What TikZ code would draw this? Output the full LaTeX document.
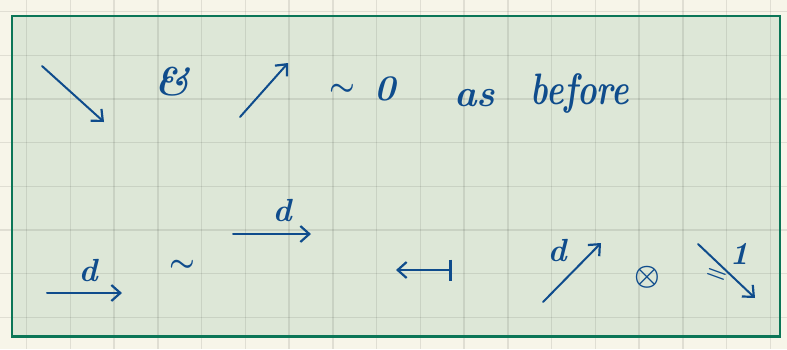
\documentclass[tikz,border=0pt]{standalone}
\usetikzlibrary{arrows.meta}
\definecolor{paper}{HTML}{F7F5E9}
\definecolor{boxfill}{HTML}{DDE7D7}
\definecolor{boxline}{HTML}{0B7657}
\definecolor{ink}{HTML}{0F4C8C}
\tikzset{
  inkarrow/.style={draw=ink, line width=1pt, line cap=round, -{Straight Barb[length=4.5pt,width=8pt,line width=1.1pt]}},
  inktext/.style={text=ink, inner sep=0pt},
  gridline/.style={draw=black, opacity=0.09, line width=0.75pt}
}
\begin{document}
\begin{tikzpicture}[x=0.5pt,y=-0.5pt]
\useasboundingbox (0,0) rectangle (787,349);
\fill[paper] (0,0) rectangle (787,349);
\fill[boxfill] (12,16) rectangle (780,336.5);
% grid
\foreach \k in {0,...,17} {\draw[gridline] ({26.7+43.75*\k},0) -- ({26.7+43.75*\k},349);}
\foreach \k in {0,...,7} {\draw[gridline] (0,{11.7+43.67*\k}) -- (787,{11.7+43.67*\k});}
\draw[boxline, line width=1.2pt] (12,16) rectangle (780,336.5);

% top row
\coordinate (a1s) at (42,66);
\coordinate (a1e) at (104,122);
\draw[inkarrow] (a1s) -- (a1e);
\node[inktext, font=\fontsize{20}{24}\selectfont\bfseries\itshape] (amp) at (172,82) {\&};
\coordinate (a2s) at (240,117);
\coordinate (a2e) at (288,63);
\draw[inkarrow] (a2s) -- (a2e);
\node[inktext, font=\fontsize{15}{18}\selectfont\boldmath] (sim1) at (342,90) {$\sim$};
\node[inktext, font=\fontsize{18}{22}\selectfont\bfseries\itshape] (zero) at (385,89) {0};
\node[inktext, anchor=base, font=\fontsize{19}{24}\selectfont\bfseries\itshape] (as) at (475,106) {as};
\node[inktext, anchor=base, xscale=0.75, font=\fontsize{22}{26}\selectfont\bfseries\itshape] (before) at (580,104) {before};

% bottom row
\coordinate (b1s) at (47,293);
\coordinate (b1e) at (122,293);
\draw[inkarrow] (b1s) -- (b1e);
\node[inktext, font=\fontsize{16}{19}\selectfont\bfseries\itshape] (d1) at (88,271) {d};
\node[inktext, font=\fontsize{15}{18}\selectfont\boldmath] (sim2) at (182,266) {$\sim$};
\coordinate (b2s) at (233,234);
\coordinate (b2e) at (311,234);
\draw[inkarrow] (b2s) -- (b2e);
\node[inktext, font=\fontsize{16}{19}\selectfont\bfseries\itshape] (d2) at (282,211) {d};
\coordinate (b3s) at (396,270);
\coordinate (b3e) at (452,270);
\draw[draw=ink, line width=1pt, {Straight Barb[length=4.5pt,width=8pt,line width=1.1pt]}-{Bar[width=10.5pt,line width=1.3pt]}] (b3s) -- (b3e);
\coordinate (b4s) at (543,302);
\coordinate (b4e) at (601,243);
\draw[inkarrow] (b4s) -- (b4e);
\node[inktext, font=\fontsize{16}{19}\selectfont\bfseries\itshape] (d3) at (557,251) {d};
\node[inktext, font=\fontsize{14}{17}\selectfont\boldmath] (otimes) at (647,277) {$\otimes$};
\coordinate (b5s) at (698,244);
\coordinate (b5e) at (755,298);
\draw[inkarrow] (b5s) -- (b5e);
\node[inktext, font=\fontsize{16}{19}\selectfont\bfseries\itshape] (one) at (739,254) {1};
\node[inktext, rotate=-20, font=\fontsize{13}{15}\selectfont\boldmath] (eq) at (716,276) {$=$};
\end{tikzpicture}
\end{document}
